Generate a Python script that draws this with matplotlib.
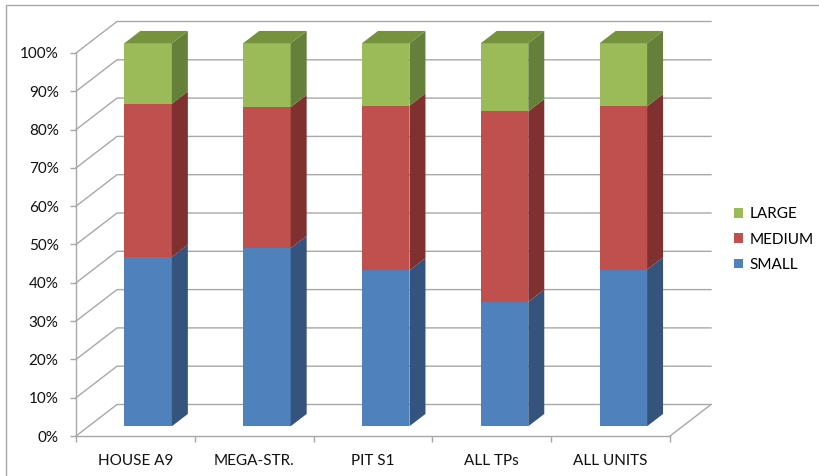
import matplotlib
matplotlib.use("Agg")
import matplotlib.pyplot as plt
from matplotlib.patches import Polygon, Patch
from matplotlib.lines import Line2D
import numpy as np

# ---------------- data ----------------
categories = ["HOUSE A9", "MEGA-STR.", "PIT S1", "ALL TPs", "ALL UNITS"]
small = [44.2, 46.5, 40.7, 32.5, 40.9]
medium = [40.0, 36.8, 43.0, 49.7, 42.6]
large = [15.8, 16.7, 16.3, 17.8, 16.5]
series_names = ["SMALL", "MEDIUM", "LARGE"]
yticks = list(range(0, 101, 10))
ytick_labels = [f"{v}%" for v in yticks]

# ---------------- style ----------------
front_cols = ["#4F81BD", "#C0504D", "#9BBB59"]
side_cols = ["#34547E", "#80302E", "#64803A"]
top_cols = ["#3E6596", "#93403D", "#76923C"]
grid_col = "#A8A8A8"
FONT = "Lato"

W, H = 820, 476
fig = plt.figure(figsize=(W / 100, H / 100), dpi=100)
fig.patch.set_facecolor("white")

# front plane of the 3D box
x_left, x_right, y_bot, y_top = 76, 670, 436, 53
ax = fig.add_axes([x_left / W, (H - y_bot) / H, (x_right - x_left) / W, (y_bot - y_top) / H])
n = len(categories)
ax.set_xlim(-0.5, n - 0.5)
ax.set_ylim(0, 100)

px_per_x = (x_right - x_left) / n
px_per_y = (y_bot - y_top) / 100.0
DX = 41 / px_per_x          # depth vector (data units)
DY = 31.5 / px_per_y


def proj(x, y, d):
    return x + d * DX, y + d * DY


# ---------------- walls / gridlines ----------------
for v in yticks:
    p0 = proj(-0.5, v, 0)
    p1 = proj(-0.5, v, 1)
    p2 = proj(n - 0.5, v, 1)
    ax.add_line(Line2D([p0[0], p1[0], p2[0]], [p0[1], p1[1], p2[1]],
                       color=grid_col, lw=1.0, clip_on=False, zorder=0.5))
q0 = proj(n - 0.5, 0, 0)
q1 = proj(n - 0.5, 0, 1)
ax.add_line(Line2D([q0[0], q1[0]], [q0[1], q1[1]], color=grid_col, lw=1.0,
                   clip_on=False, zorder=0.5))

# ---------------- bars ----------------
f0, f1 = 0.31, 0.70
bw = 0.40
series = [small, medium, large]
xs = np.arange(n)
cum = np.zeros(n)
for s, vals in enumerate(series):
    vals = np.asarray(vals, dtype=float)
    ax.bar(xs + f0 * DX, vals, bottom=cum + f0 * DY, width=bw,
           color=front_cols[s], edgecolor="none", zorder=2, clip_on=False)
    for i in range(n):
        b, t = cum[i], cum[i] + vals[i]
        xr = i + bw / 2
        xl = i - bw / 2
        side = [proj(xr, b, f0), proj(xr, t, f0), proj(xr, t, f1), proj(xr, b, f1)]
        ax.add_patch(Polygon(side, closed=True, facecolor=side_cols[s],
                             edgecolor="none", zorder=2, clip_on=False))
        if s == len(series) - 1:
            top = [proj(xl, t, f0), proj(xr, t, f0), proj(xr, t, f1), proj(xl, t, f1)]
            ax.add_patch(Polygon(top, closed=True, facecolor=top_cols[s],
                                 edgecolor="none", zorder=2, clip_on=False))
    cum = cum + vals

# ---------------- axes ----------------
for sp in ["top", "right"]:
    ax.spines[sp].set_visible(False)
for sp in ["left", "bottom"]:
    ax.spines[sp].set_color(grid_col)
    ax.spines[sp].set_linewidth(1.0)
ax.set_facecolor("none")

ax.set_yticks(yticks)
ax.set_yticklabels(ytick_labels, fontfamily=FONT, fontsize=11, color="#111111")
ax.tick_params(axis="y", length=4.5, width=1.0, color=grid_col, pad=8)

ax.set_xticks(xs)
ax.set_xticklabels(categories, fontfamily=FONT, fontsize=11, color="#111111")
ax.set_xticks(np.arange(-0.5, n, 1.0), minor=True)
ax.tick_params(axis="x", which="major", length=0, pad=13)
ax.tick_params(axis="x", which="minor", length=4.5, width=1.0, color=grid_col)

# ---------------- legend ----------------
handles = [Patch(facecolor=front_cols[s], edgecolor="none") for s in range(3)][::-1]
labels = series_names[::-1]
fig.legend(handles, labels, loc="center left", bbox_to_anchor=(734 / W, 1 - 239.5 / H),
           frameon=False, handlelength=0.6, handleheight=0.6, handletextpad=0.4,
           labelspacing=0.75, borderpad=0, borderaxespad=0,
           prop={"family": FONT, "size": 11})

# ---------------- outer frame (left & top visible) ----------------
fig.add_artist(Line2D([6.5 / W, 6.5 / W, 1.0], [0.0, 1 - 4.5 / H, 1 - 4.5 / H],
                      transform=fig.transFigure, color="#A8A8A8", lw=1.0))

fig.savefig("out.png", dpi=100, facecolor="white")
